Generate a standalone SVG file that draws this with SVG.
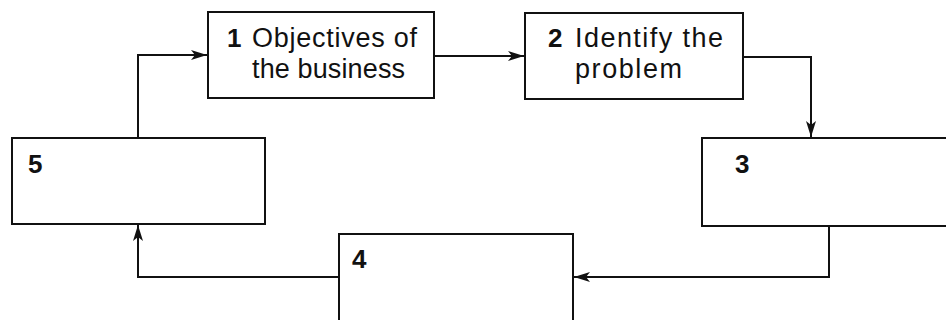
<svg xmlns="http://www.w3.org/2000/svg" width="946" height="320" viewBox="0 0 946 320">
<style>
.box{fill:#fff;stroke:#111;stroke-width:2}
.ln{fill:none;stroke:#111;stroke-width:2}
.t{font-family:"Liberation Sans",Arial,sans-serif;font-size:27px;fill:#111}
.n{font-family:"Liberation Sans",Arial,sans-serif;font-size:26px;font-weight:bold;fill:#111}
</style>
<defs>
<marker id="ah" viewBox="0 0 16 10" refX="16" refY="5" markerWidth="16" markerHeight="10" markerUnits="userSpaceOnUse" orient="auto">
<path d="M0,0 L16,5 L0,10 L4,5 Z" fill="#111"/>
</marker>
</defs>
<rect width="946" height="320" fill="#fff"/>
<g id="connectors">
<path class="ln" d="M138,138 V55 H207" marker-end="url(#ah)"/>
<path class="ln" d="M434,56 H524" marker-end="url(#ah)"/>
<path class="ln" d="M743,57 H811 V137" marker-end="url(#ah)"/>
<path class="ln" d="M829,226 V277 H574" marker-end="url(#ah)"/>
<path class="ln" d="M339,277 H138 V225" marker-end="url(#ah)"/>
</g>
<g id="node1">
<rect class="box" x="208" y="12" width="226" height="86"/>
<text class="t" x="227" y="47"><tspan class="n">1</tspan><tspan x="252" textLength="165">Objectives of</tspan><tspan x="252" y="78" textLength="153">the business</tspan></text>
</g>
<g id="node2">
<rect class="box" x="525" y="13" width="218" height="86"/>
<text class="t" x="548" y="47"><tspan class="n">2</tspan><tspan x="575" textLength="148">Identify the</tspan><tspan x="575" y="78" textLength="107">problem</tspan></text>
</g>
<g id="node3">
<rect class="box" x="702" y="138" width="250" height="88"/>
<text class="n" x="735" y="173">3</text>
</g>
<g id="node4">
<rect class="box" x="339" y="234" width="234" height="92"/>
<text class="n" x="352" y="268">4</text>
</g>
<g id="node5">
<rect class="box" x="12" y="138" width="253" height="86"/>
<text class="n" x="28" y="173">5</text>
</g>
</svg>
